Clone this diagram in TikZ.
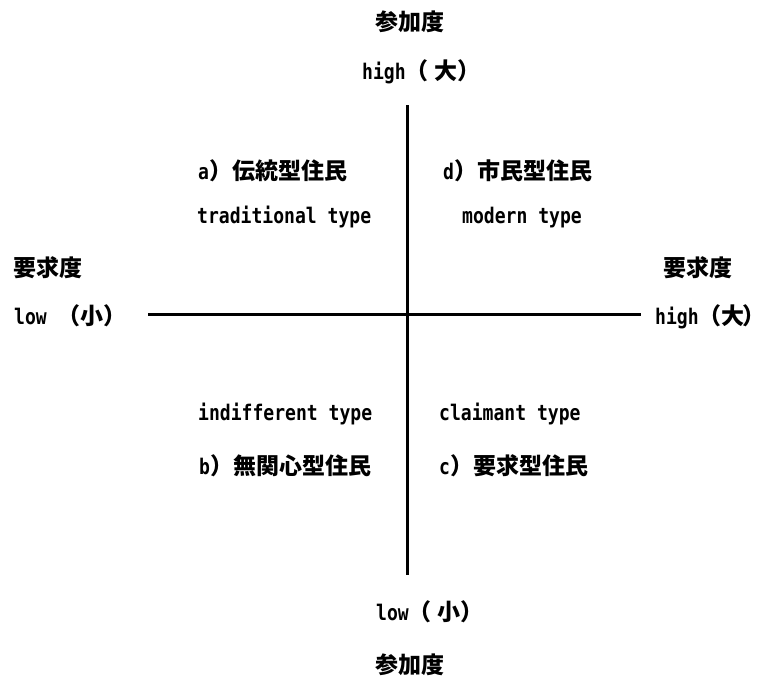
\documentclass[tikz,border=0pt]{standalone}
\usepackage{fontspec}
\newfontfamily\jpf{Noto Sans CJK JP}
\newfontfamily\latf{DejaVu Sans Mono}[FakeStretch=0.84]
\newcommand\jtxt[1]{{\jpf\bfseries\fontsize{23}{27}\selectfont #1}}
\newcommand\ltxt[1]{{\latf\bfseries\fontsize{21.5}{25}\selectfont #1}}
\newcommand\closep{\makebox[12pt][l]{\jtxt{）}}}
\begin{document}
\begin{tikzpicture}[x=1pt,y=-1pt,
  txt/.style={inner sep=0pt},
  axis line/.style={line width=3pt, black}]
\useasboundingbox (0,0) rectangle (768,677);
\fill[white] (0,0) rectangle (768,677);
% axes
\coordinate (vt) at (407,105);
\coordinate (vb) at (407,575);
\coordinate (hl) at (148,314);
\coordinate (hr) at (641,314);
\draw[axis line] (vt) -- (vb);
\draw[axis line] (hl) -- (hr);
% vertical axis labels
\node[txt, anchor=base west] (ptop) at (375,31) {\jtxt{参加度}};
\node[txt, anchor=base west] (phigh) at (362,79) {\ltxt{high}\jtxt{（\hspace{6pt}大}\closep};
\node[txt, anchor=base west] (plow) at (376,620) {\ltxt{low}\jtxt{（\hspace{6pt}小}\closep};
\node[txt, anchor=base west] (pbot) at (375,673) {\jtxt{参加度}};
% horizontal axis labels
\node[txt, anchor=base west] (lq) at (13,276) {\jtxt{要求度}};
\node[txt, anchor=base west] (llow) at (14,324) {\ltxt{low }\jtxt{（小}\closep};
\node[txt, anchor=base west] (rq) at (663,276) {\jtxt{要求度}};
\node[txt, anchor=base west] (rhigh) at (655,324) {\ltxt{high}\jtxt{（大}\hspace{-2pt}\jtxt{）}};
% quadrants
\node[txt, anchor=base west] (qa) at (198,179) {\ltxt{a}\jtxt{）伝統型住民}};
\node[txt, anchor=base west] (qat) at (197,223) {\ltxt{traditional type}};
\node[txt, anchor=base west] (qd) at (443,179) {\ltxt{d}\jtxt{）市民型住民}};
\node[txt, anchor=base west] (qdt) at (462,223) {\ltxt{modern type}};
\node[txt, anchor=base west] (qbt) at (198,420) {\ltxt{indifferent type}};
\node[txt, anchor=base west] (qct) at (439,420) {\ltxt{claimant type}};
\node[txt, anchor=base west] (qb) at (199,474) {\ltxt{b}\jtxt{）無関心型住民}};
\node[txt, anchor=base west] (qc) at (439,474) {\ltxt{c}\jtxt{）要求型住民}};
\end{tikzpicture}
\end{document}
